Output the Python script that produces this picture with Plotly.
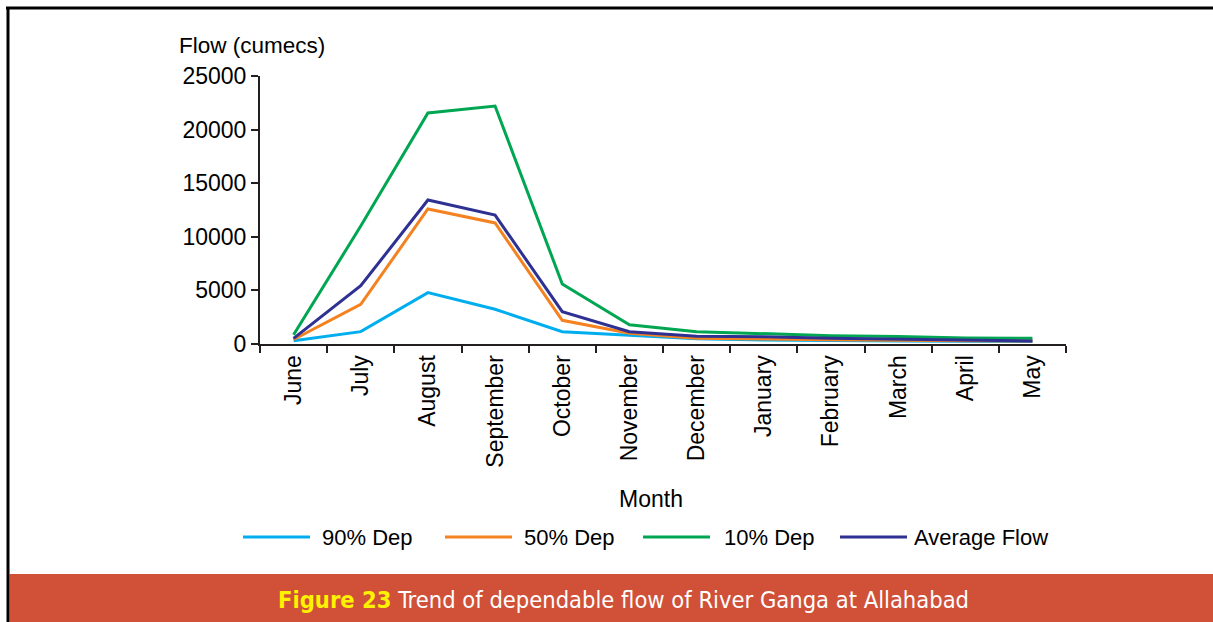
import plotly.graph_objects as go

months = ["June", "July", "August", "September", "October", "November",
          "December", "January", "February", "March", "April", "May"]
dep90 = [300, 1150, 4790, 3240, 1150, 810, 500, 370, 300, 280, 250, 230]
dep50 = [420, 3700, 12600, 11290, 2210, 1000, 530, 500, 400, 350, 300, 280]
dep10 = [870, 11000, 21550, 22200, 5600, 1800, 1150, 930, 780, 700, 560, 540]
avg = [530, 5430, 13430, 12030, 3010, 1150, 720, 680, 530, 450, 340, 290]

series_names = ["90% Dep", "50% Dep", "10% Dep", "Average Flow"]
series_values = [dep90, dep50, dep10, avg]
series_colors = ["#00AEEF", "#F58220", "#00A651", "#2E3192"]
y_ticks = [0, 5000, 10000, 15000, 20000, 25000]

W, H = 1213, 622
FONT = "Liberation Sans, Arial, sans-serif"
NARROW = "DejaVu Sans Condensed, Liberation Sans Narrow, Arial Narrow, sans-serif"

def px(x):
    return x / W

def py(y):
    return 1 - y / H

fig = go.Figure()
for name, vals, col in zip(series_names, series_values, series_colors):
    fig.add_trace(go.Scatter(x=months, y=vals, mode="lines", name=name,
                             line=dict(color=col, width=3), showlegend=False))

fig.update_layout(
    width=W, height=H, autosize=False,
    margin=dict(l=0, r=0, t=0, b=0, pad=0, autoexpand=False),
    showlegend=False,
    paper_bgcolor="white", plot_bgcolor="white",
    font=dict(family=FONT, size=22, color="black"),
    xaxis=dict(domain=[px(260), px(1066)], type="category",
               categoryorder="array", categoryarray=months,
               range=[-0.5, 11.5], showgrid=False, zeroline=False,
               automargin=False,
               showline=True, linecolor="#231F20", linewidth=2,
               ticks="outside", tickson="boundaries", ticklen=7,
               tickcolor="#231F20", tickwidth=2, tickangle=-90,
               tickfont=dict(family=FONT, size=23, color="black")),
    yaxis=dict(domain=[py(344), py(76)], range=[0, 25000],
               tickvals=y_ticks, ticktext=[str(v) for v in y_ticks],
               showgrid=False, zeroline=False, automargin=False,
               showline=True, linecolor="#231F20", linewidth=2,
               ticks="outside", ticklen=7, tickcolor="#231F20", tickwidth=2,
               tickfont=dict(family=FONT, size=23, color="black")),
)

shapes = []
annotations = []
# border lines
shapes.append(dict(type="line", xref="paper", yref="paper",
                   x0=px(6), x1=px(W), y0=py(8), y1=py(8),
                   line=dict(color="black", width=3)))
shapes.append(dict(type="line", xref="paper", yref="paper",
                   x0=px(8), x1=px(8), y0=py(8), y1=0,
                   line=dict(color="black", width=3)))
# caption bar
shapes.append(dict(type="rect", xref="paper", yref="paper",
                   x0=px(9.5), x1=1, y0=0, y1=py(574),
                   fillcolor="#D05038", line=dict(width=0), layer="below"))

# manual legend
leg_line_x = [243, 445, 643, 840]
leg_text_x = [320, 522, 722, 912]
for name, col, lx, tx in zip(series_names, series_colors, leg_line_x, leg_text_x):
    shapes.append(dict(type="line", xref="paper", yref="paper",
                       x0=px(lx), x1=px(lx + 67), y0=py(537), y1=py(537),
                       line=dict(color=col, width=3)))
    annotations.append(dict(text=name, xref="paper", yref="paper",
                            x=px(tx), y=py(537), xanchor="left", yanchor="middle",
                            showarrow=False, font=dict(family=FONT, size=22)))

annotations.append(dict(text="Flow (cumecs)", xref="paper", yref="paper",
                        x=px(177), y=py(45), xanchor="left", yanchor="middle",
                        showarrow=False, font=dict(family=FONT, size=22.5)))
annotations.append(dict(text="Month", xref="paper", yref="paper",
                        x=px(651), y=py(499), xanchor="center", yanchor="middle",
                        showarrow=False, font=dict(family=FONT, size=23)))
annotations.append(dict(
    text="<b><span style='color:#FFF200'>Figure 23</span></b> Trend of dependable flow of River Ganga at Allahabad",
    xref="paper", yref="paper", x=px(623), y=py(600), xanchor="center", yanchor="middle",
    showarrow=False, font=dict(family=NARROW, size=23.5, color="white")))

fig.update_layout(shapes=shapes, annotations=annotations)
fig.write_html(
    "out.html",
    config={"displayModeBar": False, "responsive": False},
    post_script="document.body.style.margin='0';document.body.style.overflow='hidden';"
                "document.documentElement.style.overflow='hidden';",
)
